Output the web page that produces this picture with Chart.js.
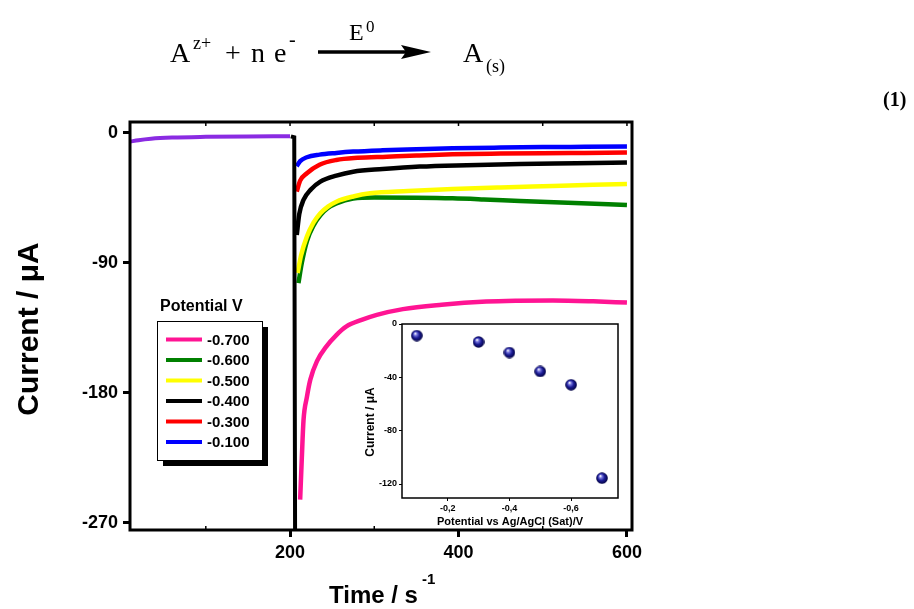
<!DOCTYPE html>
<html><head><meta charset="utf-8">
<script src="https://cdn.jsdelivr.net/npm/chart.js@4.4.1/dist/chart.umd.min.js"></script>
<style>
html,body{margin:0;padding:0;background:#fff;}
#wrap{position:relative;width:914px;height:609px;overflow:hidden;}
#main{position:absolute;left:0;top:0;}
#inset{position:absolute;left:350px;top:310px;}
</style></head><body>
<div id="wrap"><canvas id="main" width="914" height="609"></canvas><canvas id="inset" width="280" height="230"></canvas></div>
<script>
// ---------- DATA ----------
const legendLabels = ['-0.700', '-0.600', '-0.500', '-0.400', '-0.300', '-0.100'];

const preTime    = [10, 20, 35, 60, 100, 150, 200];
const preCurrent = [-6, -5, -4, -3.2, -2.7, -2.4, -2.3];

const stepTime    = [201, 205, 206];
const stepCurrent = [-2.3, -3, -280];

const t700 = [212, 214, 216, 220, 224, 232, 243, 255, 267, 285, 303, 334, 380, 433, 470, 512, 560, 600];
const i700 = [-254, -225, -199, -183, -171, -158, -148, -140, -134, -129.5, -126, -122, -119, -116.8, -116.2, -116, -116.6, -117.5];

const t600 = [210, 214, 220, 228, 236, 245, 255, 275, 300, 350, 393, 430, 473, 530, 600];
const i600 = [-104, -90, -75, -64, -57, -52, -48.8, -45.4, -44.7, -44.8, -45.2, -46, -47.1, -48.4, -49.9];

const t500 = [209, 213, 220, 228, 236, 245, 255, 275, 295, 340, 393, 450, 512, 560, 600];
const i500 = [-97, -85, -71.8, -62, -55.6, -51, -47.6, -44, -41.8, -40.2, -38.8, -37.7, -36.7, -35.9, -35.3];

const t400 = [208, 211, 216, 225, 236, 255, 275, 310, 354, 410, 473, 540, 600];
const i400 = [-70.6, -56, -46.4, -39, -33.7, -29.5, -26.8, -25, -23.3, -22.3, -21.5, -21, -20.5];

const t300 = [208, 212, 220, 235, 255, 280, 315, 350, 393, 450, 500, 550, 600];
const i300 = [-40.6, -33, -27.9, -22, -18.7, -17.2, -16.4, -15.6, -14.8, -14.3, -14, -13.8, -13.6];

const t100 = [208, 212, 220, 235, 255, 275, 310, 350, 393, 450, 500, 550, 600];
const i100 = [-23, -19.5, -16.8, -15, -13.8, -12.9, -12, -11.3, -10.6, -10.1, -9.8, -9.6, -9.4];

const yTicks = [0, -90, -180, -270];
const xTicks = [100, 200, 300, 400, 500, 600];
const xLabelled = [200, 400, 600];

// inset
const insetPotential = [-0.1, -0.3, -0.4, -0.5, -0.6, -0.7];
const insetCurrent   = [-8.7, -13.5, -21.4, -35.6, -45.6, -115.6];
const insetXTicks = [-0.2, -0.4, -0.6];
const insetYTicks = [0, -40, -80, -120];

// ---------- STYLE ----------
const SANS = "'Liberation Sans', Arial, sans-serif";
const SERIF = "'Liberation Serif', 'Times New Roman', serif";
const colors = ['#ff1493', '#008000', '#ffff00', '#000000', '#ff0000', '#0000ff'];
const seriesT = [t700, t600, t500, t400, t300, t100];
const seriesI = [i700, i600, i500, i400, i300, i100];
const drawOrder = [6, 5, 4, 3, 2, 1];

function pts(t, v) { return t.map((x, k) => ({x: x, y: v[k]})); }

const datasets = [];
legendLabels.forEach((lab, k) => {
  datasets.push({
    label: lab, data: pts(seriesT[k], seriesI[k]),
    borderColor: colors[k], borderWidth: 4.5, pointRadius: 0,
    cubicInterpolationMode: 'monotone', order: drawOrder[k], clip: 0
  });
});
datasets.push({label: 'pre', data: pts(preTime, preCurrent), borderColor: '#8a2be2', borderWidth: 4,
  pointRadius: 0, cubicInterpolationMode: 'monotone', order: 7, clip: 0});
datasets.push({label: 'step', data: pts(stepTime, stepCurrent), borderColor: '#000', borderWidth: 4,
  pointRadius: 0, tension: 0, order: 0, clip: 0});

function txt(ctx, s, x, y, font, align) {
  ctx.font = font; ctx.textAlign = align || 'left'; ctx.fillText(s, x, y);
}

const mainDecor = {
  id: 'mainDecor',
  afterDatasetsDraw(chart) {
    const {ctx, chartArea: a, scales} = chart;
    ctx.save();
    ctx.strokeStyle = '#000';
    ctx.lineWidth = 3;
    ctx.strokeRect(a.left, a.top, a.right - a.left, a.bottom - a.top);
    ctx.lineWidth = 1.5;
    xTicks.forEach(v => {
      const x = scales.x.getPixelForValue(v);
      ctx.beginPath(); ctx.moveTo(x, a.top); ctx.lineTo(x, a.top + 4); ctx.stroke();
      if (!xLabelled.includes(v)) {
        ctx.beginPath(); ctx.moveTo(x, a.bottom); ctx.lineTo(x, a.bottom - 4); ctx.stroke();
      }
    });
    ctx.restore();
  },
  afterDraw(chart) {
    const {ctx} = chart;
    ctx.save();
    ctx.fillStyle = '#000';
    ctx.textBaseline = 'alphabetic';
    // legend
    const lx = 157, ly = 321, lw = 105, lh = 139;
    ctx.fillRect(lx + 6, ly + 6, lw, lh);
    ctx.fillStyle = '#fff'; ctx.fillRect(lx, ly, lw, lh);
    ctx.strokeStyle = '#000'; ctx.lineWidth = 1; ctx.strokeRect(lx + 0.5, ly + 0.5, lw, lh);
    ctx.fillStyle = '#000';
    txt(ctx, 'Potential V', 160, 311, 'bold 16px ' + SANS);
    legendLabels.forEach((lab, k) => {
      const y = 339.5 + k * 20.5;
      ctx.strokeStyle = colors[k]; ctx.lineWidth = 4;
      ctx.beginPath(); ctx.moveTo(166, y); ctx.lineTo(202, y); ctx.stroke();
      ctx.fillStyle = '#000';
      ctx.textBaseline = 'middle';
      txt(ctx, lab, 207, y + 1, 'bold 15px ' + SANS);
      ctx.textBaseline = 'alphabetic';
    });
    // axis titles
    txt(ctx, 'Time / s', 329, 603, 'bold 24px ' + SANS);
    txt(ctx, '-1', 422, 584, 'bold 15px ' + SANS);
    ctx.save();
    ctx.translate(38, 329); ctx.rotate(-Math.PI / 2);
    txt(ctx, 'Current / \u03bcA', 0, 0, 'bold 30px ' + SANS, 'center');
    ctx.restore();
    // equation
    txt(ctx, 'A', 170, 62, '28px ' + SERIF);
    txt(ctx, 'z+', 193, 49, '18px ' + SERIF);
    txt(ctx, '+', 225, 62, '28px ' + SERIF);
    txt(ctx, 'n', 251, 62, '28px ' + SERIF);
    txt(ctx, 'e', 274, 62, '28px ' + SERIF);
    txt(ctx, '-', 289, 46, '20px ' + SERIF);
    ctx.strokeStyle = '#000'; ctx.lineWidth = 3.5;
    ctx.beginPath(); ctx.moveTo(318, 52); ctx.lineTo(410, 52); ctx.stroke();
    ctx.beginPath(); ctx.moveTo(431, 52); ctx.lineTo(401, 45); ctx.lineTo(406, 52); ctx.lineTo(401, 59); ctx.closePath(); ctx.fill();
    txt(ctx, 'E', 349, 40, '24px ' + SERIF);
    txt(ctx, '0', 366, 32, '17px ' + SERIF);
    txt(ctx, 'A', 463, 62, '28px ' + SERIF);
    txt(ctx, '(s)', 486, 72, '18px ' + SERIF);
    txt(ctx, '(1)', 883, 106, 'bold 20px ' + SERIF);
    ctx.restore();
  }
};

new Chart(document.getElementById('main'), {
  type: 'line',
  data: {datasets: datasets},
  options: {
    responsive: false, animation: false, devicePixelRatio: 1,
    layout: {padding: {top: 122, right: 282, left: 0, bottom: 0}},
    plugins: {legend: {display: false}, tooltip: {enabled: false}},
    scales: {
      x: {
        type: 'linear', min: 10, max: 606,
        afterBuildTicks: s => { s.ticks = xTicks.map(v => ({value: v})); },
        afterFit: s => { s.height = 79; },
        ticks: {autoSkip: false, maxRotation: 0, padding: 5, color: '#000',
          font: {family: SANS, size: 18, weight: 'bold'},
          callback: v => xLabelled.includes(v) ? String(v) : ''},
        grid: {drawOnChartArea: false, tickLength: 7, tickWidth: 3,
          tickColor: c => (c.tick && xLabelled.includes(c.tick.value)) ? '#000' : 'rgba(0,0,0,0)'},
        border: {display: false}
      },
      y: {
        type: 'linear', min: -275, max: 7.6,
        afterBuildTicks: s => { s.ticks = yTicks.map(v => ({value: v})); },
        afterFit: s => { s.width = 130; },
        ticks: {autoSkip: false, padding: 5, color: '#000',
          font: {family: SANS, size: 18, weight: 'bold'},
          callback: v => String(v)},
        grid: {drawOnChartArea: false, tickLength: 7, tickWidth: 3, tickColor: '#000'},
        border: {display: false}
      }
    }
  },
  plugins: [mainDecor]
});

// ---------- INSET ----------
const sphere = document.createElement('canvas');
sphere.width = 12; sphere.height = 12;
(function () {
  const g = sphere.getContext('2d');
  const grad = g.createRadialGradient(4.3, 3.8, 0.3, 6, 6, 6);
  grad.addColorStop(0, '#ffffff');
  grad.addColorStop(0.22, '#7a7ae0');
  grad.addColorStop(0.55, '#1c1c96');
  grad.addColorStop(1, '#00003c');
  g.fillStyle = grad; g.beginPath(); g.arc(6, 6, 5.8, 0, Math.PI * 2); g.fill();
})();

const insetDecor = {
  id: 'insetDecor',
  afterDraw(chart) {
    const {ctx, chartArea: a} = chart;
    ctx.save();
    ctx.strokeStyle = '#000'; ctx.lineWidth = 1.5;
    ctx.strokeRect(a.left, a.top, a.right - a.left, a.bottom - a.top);
    ctx.fillStyle = '#000';
    ctx.textBaseline = 'alphabetic';
    txt(ctx, 'Potential vs Ag/AgCl (Sat)/V', 160, 215, 'bold 11px ' + SANS, 'center');
    ctx.translate(24, 112); ctx.rotate(-Math.PI / 2);
    txt(ctx, 'Current / \u03bcA', 0, 0, 'bold 12px ' + SANS, 'center');
    ctx.restore();
  }
};

new Chart(document.getElementById('inset'), {
  type: 'scatter',
  data: {datasets: [{
    data: insetPotential.map((p, k) => ({x: p, y: insetCurrent[k]})),
    pointStyle: sphere, pointRadius: 6, showLine: false
  }]},
  options: {
    responsive: false, animation: false, devicePixelRatio: 1,
    layout: {padding: {top: 14, right: 12, left: 0, bottom: 0}},
    plugins: {legend: {display: false}, tooltip: {enabled: false}},
    scales: {
      x: {
        type: 'linear', reverse: true, min: -0.752, max: -0.052,
        afterBuildTicks: s => { s.ticks = insetXTicks.map(v => ({value: v})); },
        afterFit: s => { s.height = 42; },
        ticks: {autoSkip: false, maxRotation: 0, padding: 2, color: '#000',
          font: {family: SANS, size: 9, weight: 'bold'},
          callback: v => v.toFixed(1).replace('.', ',')},
        grid: {drawOnChartArea: false, tickLength: 3, tickWidth: 1, tickColor: '#000'},
        border: {display: false}
      },
      y: {
        type: 'linear', min: -130.5, max: 0,
        afterBuildTicks: s => { s.ticks = insetYTicks.map(v => ({value: v})); },
        afterFit: s => { s.width = 52; },
        ticks: {autoSkip: false, padding: 2, color: '#000',
          font: {family: SANS, size: 9, weight: 'bold'},
          callback: v => String(v)},
        grid: {drawOnChartArea: false, tickLength: 3, tickWidth: 1, tickColor: '#000'},
        border: {display: false}
      }
    }
  },
  plugins: [insetDecor]
});
</script>
</body></html>
